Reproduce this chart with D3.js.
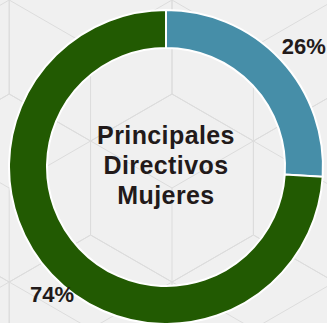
<!DOCTYPE html>
<html>
<head>
<meta charset="utf-8">
<script src="https://cdn.jsdelivr.net/npm/d3@7"></script>
<style>
  html, body { margin: 0; padding: 0; background: #f0f0f0; }
  svg { display: block; }
</style>
</head>
<body>
<svg id="chart" width="327" height="323"></svg>
<script>
// Share of top executives by gender
const categories = ["Mujeres", "Hombres"];
const values = [26, 74];
const labels = ["26%", "74%"];
const colors = ["#468ea8", "#225a02"];
const titleLines = ["Principales", "Directivos", "Mujeres"];

const W = 327, H = 323;
const cx = 166, cy = 167;
const outerR = 157, innerR = 119;

const svg = d3.select("#chart");

// Background: faint tumbling-blocks (isometric cube) pattern
const bg = svg.append("g").attr("class", "bg-pattern");
bg.append("rect").attr("width", W).attr("height", H).attr("fill", "#f0f0f0");

const hexR = 94;
const hexW = Math.sqrt(3) * hexR;
const origin = [172, 188];
const segs = [];
for (let row = -3; row <= 3; row++) {
  for (let col = -3; col <= 3; col++) {
    const hx = origin[0] + col * hexW + (Math.abs(row) % 2 ? hexW / 2 : 0);
    const hy = origin[1] + row * 1.5 * hexR;
    const v = d3.range(6).map(i => {
      const a = (Math.PI / 3) * i - Math.PI / 2; // pointy-top
      return [hx + hexR * Math.cos(a), hy + hexR * Math.sin(a)];
    });
    for (let i = 0; i < 6; i++) segs.push([v[i], v[(i + 1) % 6]]);
    // cube edges from the centre to upper-right, bottom and upper-left corners
    [1, 3, 5].forEach(i => segs.push([[hx, hy], v[i]]));
  }
}
bg.selectAll("line").data(segs).join("line")
  .attr("x1", d => d[0][0]).attr("y1", d => d[0][1])
  .attr("x2", d => d[1][0]).attr("y2", d => d[1][1])
  .attr("stroke", "#dcdcdc").attr("stroke-width", 1);

// Donut
const pie = d3.pie().sort(null).value(d => d.value).startAngle(0).endAngle(2 * Math.PI);
const data = categories.map((c, i) => ({ cat: c, value: values[i], label: labels[i], color: colors[i] }));
const arcs = pie(data);

const arc = d3.arc().innerRadius(innerR).outerRadius(outerR);
const labelArc = d3.arc().innerRadius(178).outerRadius(178);

const g = svg.append("g").attr("transform", `translate(${cx},${cy})`);

g.selectAll("path.slice").data(arcs).join("path")
  .attr("class", "slice")
  .attr("d", arc)
  .attr("fill", d => d.data.color)
  .attr("stroke", "#ffffff")
  .attr("stroke-width", 2);

// Percentage labels sit just outside the ring, on a slightly flattened ellipse
g.selectAll("text.pct").data(arcs).join("text")
  .attr("class", "pct")
  .attr("transform", d => {
    const [x, y] = labelArc.centroid(d);
    return `translate(${x * 0.97 + 12},${y * 1.02 + 11})`;
  })
  .attr("text-anchor", "middle")
  .attr("font-family", "'Liberation Sans', Arial, Helvetica, sans-serif")
  .attr("font-weight", "bold")
  .attr("font-size", 22)
  .attr("fill", "#221a1a")
  .text(d => d.data.label);

// Centre title
const title = g.append("text")
  .attr("text-anchor", "middle")
  .attr("font-family", "'Liberation Sans', Arial, Helvetica, sans-serif")
  .attr("font-weight", "bold")
  .attr("font-size", 25)
  .attr("letter-spacing", 0.4)
  .attr("fill", "#221a1a");
title.selectAll("tspan").data(titleLines).join("tspan")
  .attr("x", 0)
  .attr("y", (d, i) => -23 + i * 30)
  .text(d => d);
</script>
</body>
</html>
